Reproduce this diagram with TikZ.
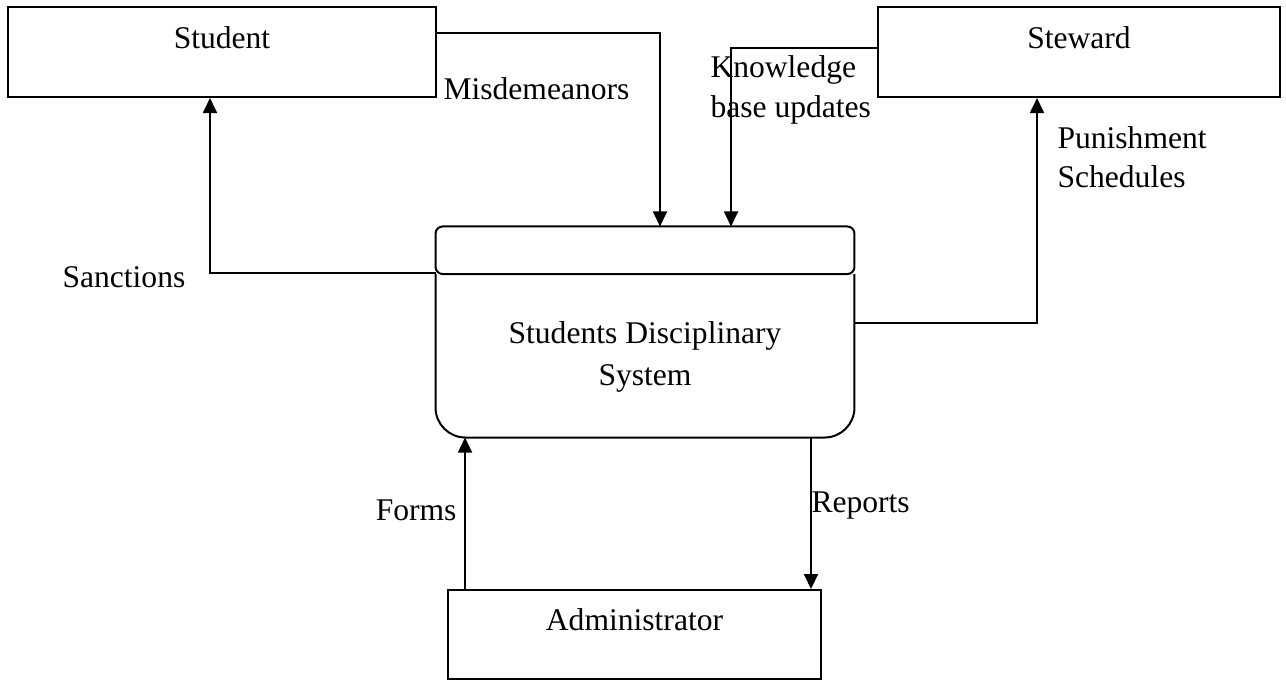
\documentclass[tikz,border=0pt]{standalone}
\usepackage{fontspec}
\setmainfont{Liberation Serif}
\usetikzlibrary{arrows.meta, positioning, calc}

\begin{document}
\begin{tikzpicture}[x=0.38pt, y=-0.38pt, font=\fontsize{12}{15}\selectfont,
		ent/.style={draw, line width=0.76pt, inner sep=0pt, text height=15.6pt, text depth=18.6pt},
		flow/.style={line width=0.76pt, -{Triangle[length=5.7pt,width=5.3pt]}},
		lbl/.style={inner sep=0pt, align=left}]
			\useasboundingbox (0,0) rectangle (1286,681);
			\draw (222,52)     node[ent, minimum width=162.6pt] (student) {Student}
			(1079,52) node[ent, minimum width=152.8pt] (steward) {Steward}
			(634.5,634.5) node[ent, minimum width=141.7pt, text height=15.2pt] (admin) {Administrator}
			(645,332) node[inner sep=0pt, minimum width=158.8pt, minimum height=79.8pt] (sys) {};
			
			\draw[line width=0.76pt, rounded corners=2.7pt] (sys.north west) rectangle (sys.east |- 0,274);
			\draw[line width=0.76pt, rounded corners=11.4pt] (sys.west |- 0,274) -- (sys.south west) -- (sys.south east) -- (sys.east |- 0,274);
			\node[align=center, font=\fontsize{12}{16}\selectfont] (systext) at (645,357) {Students Disciplinary\\System};
			
			\node[lbl, anchor=base west] (mislbl) at (443,99) {Misdemeanors};
			\node[lbl, anchor=west] (kblbl) at (710,90) {Knowledge\\base updates};
			\node[lbl, anchor=west] (sanlbl) at (62,277) {Sanctions};
			\node[lbl, anchor=west] (punlbl) at (1057,157) {Punishment\\Schedules};
			\node[lbl, anchor=base east] (formslbl) at (457,520) {Forms};
			\node[lbl, anchor=base west] (replbl) at (811,512) {Reports};
			
			\draw[flow] (student.east |- 0,33) -| (sys.north -| 660,0);
			\draw[flow] (steward.west |- 0,48) -| (sys.north -| 731,0);
			\draw[flow] (sys.west |- 0,273) -| (student.south -| 210,0);
			\draw[flow] (sys.east |- 0,323) -| (steward.south -| 1037,0);
			\draw[flow] (admin.north -| 465,0) -- (sys.south -| 465,0);
			\draw[flow] (sys.south -| 811,0) -- (admin.north -| 811,0);
		\end{tikzpicture}
\end{document}
